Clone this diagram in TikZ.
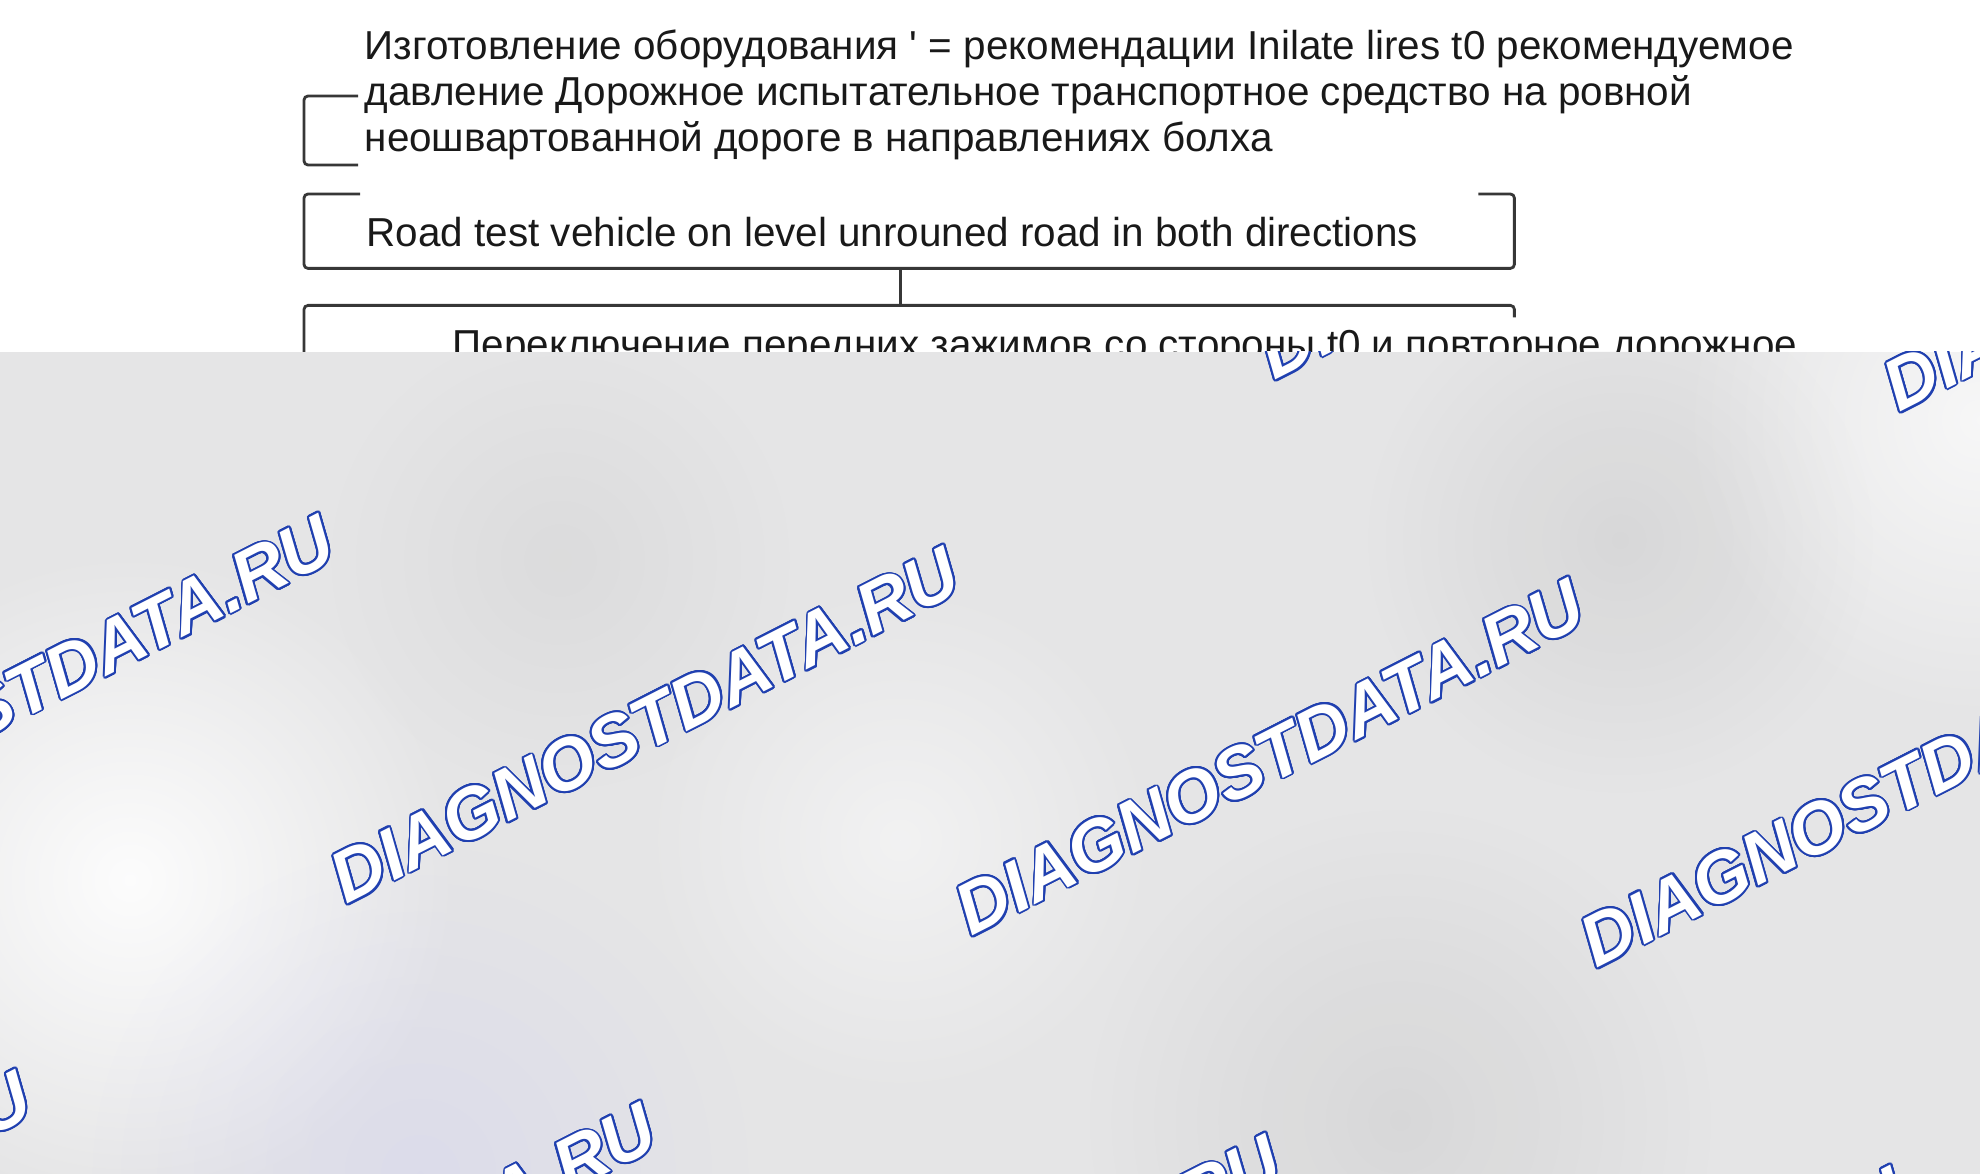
\documentclass[tikz,border=0pt]{standalone}
\usepackage{fontspec}
\setmainfont{Liberation Sans}
\usepackage{contour}
\contourlength{0.55pt}
\contournumber{24}
\usetikzlibrary{positioning, fadings}
\definecolor{panel}{RGB}{229,229,230}
\definecolor{wmblue}{RGB}{32,64,176}
\definecolor{linegray}{RGB}{55,55,55}
\tikzfading[name=blob, inner color=transparent!0, outer color=transparent!100]
\tikzset{txt/.style = {
  % Text:
  font=\fontsize{11.5}{13.1}\selectfont,
  text=black!90,
  align=left,
  inner sep=0pt
  }}
\tikzset{frame/.style = {
  draw=linegray,
  line width=0.8pt,
  rounded corners=0.4mm
  }}
\tikzset{wmark/.style = {
  font=\fontsize{20.5}{21}\selectfont\bfseries\itshape,
  text=white,
  inner sep=0pt
  }}

\begin{document}
\begin{tikzpicture}[x=0.1mm, y=-0.1mm]
\useasboundingbox (0,0) rectangle (1980,1174);

% NODES
\node (tires) [txt, anchor=base west] at (364,152) {Изготовление оборудования \textquotesingle\ = рекомендации Inilate lires t0 рекомендуемое\\давление Дорожное испытательное транспортное средство на ровной\\неошвартованной дороге в направлениях болха};

\node (road) [anchor=north west, minimum width=120.9mm, minimum height=7.3mm, inner sep=0pt] at (304,194) {};
\node (roadtxt) [txt, anchor=base west] at ([xshift=6.2mm, yshift=-5.3mm]road.north west) {Road test vehicle on level unrouned road in both directions};

\node (swapbox) [below=3.7mm of road, minimum width=120.9mm, minimum height=14mm, inner sep=0pt] {};
\node (swap) [txt, anchor=base west] at ([xshift=14.8mm, yshift=-5.3mm]swapbox.north west) {Переключение передних зажимов со стороны t0 и повторное дорожное};

% frames
\draw [frame] (358,96) -| (304,165) -- (358,165);
\draw [frame] ([xshift=5.6mm]road.north west) -- (road.north west) -- (road.south west)
  -- (road.south east) -- (road.north east) -- ([xshift=-3.6mm]road.north east);
\draw [frame] ([yshift=-1.2mm]swapbox.north east) -- (swapbox.north east)
  -- (swapbox.north west) -- (swapbox.south west);

% arrows
\draw [frame] ([xshift=-0.85mm]road.south) -- ([xshift=-0.85mm]road.south |- swapbox.north);

% PANEL
\fill [panel] (0,352) rectangle (1980,1174);
\begin{scope}
\clip (0,352) rectangle (1980,1174);
\fill [white, path fading=blob, opacity=0.9] (130,880) circle (330);
\fill [white, path fading=blob, opacity=0.7] (1980,420) circle (300);
\fill [white, path fading=blob, opacity=0.5] (900,840) circle (260);
\fill [blue!30!white, path fading=blob, opacity=0.18] (420,1174) circle (330);
\fill [black, path fading=blob, opacity=0.06] (1620,540) circle (260);
\fill [black, path fading=blob, opacity=0.06] (1400,1120) circle (320);
\fill [black, path fading=blob, opacity=0.04] (560,560) circle (240);
\foreach \cx/\cy in {323/138, 948/170, 1573/202, 2198/234,
                     20/694, 645/726, 1270/758, 1895/790,
                     -283/1250, 342/1282, 967/1314, 1592/1346}
  \node [wmark, rotate=27] at (\cx,\cy) {\contour{wmblue}{DIAGNOSTDATA.RU}};
\end{scope}
\end{tikzpicture}
\end{document}
